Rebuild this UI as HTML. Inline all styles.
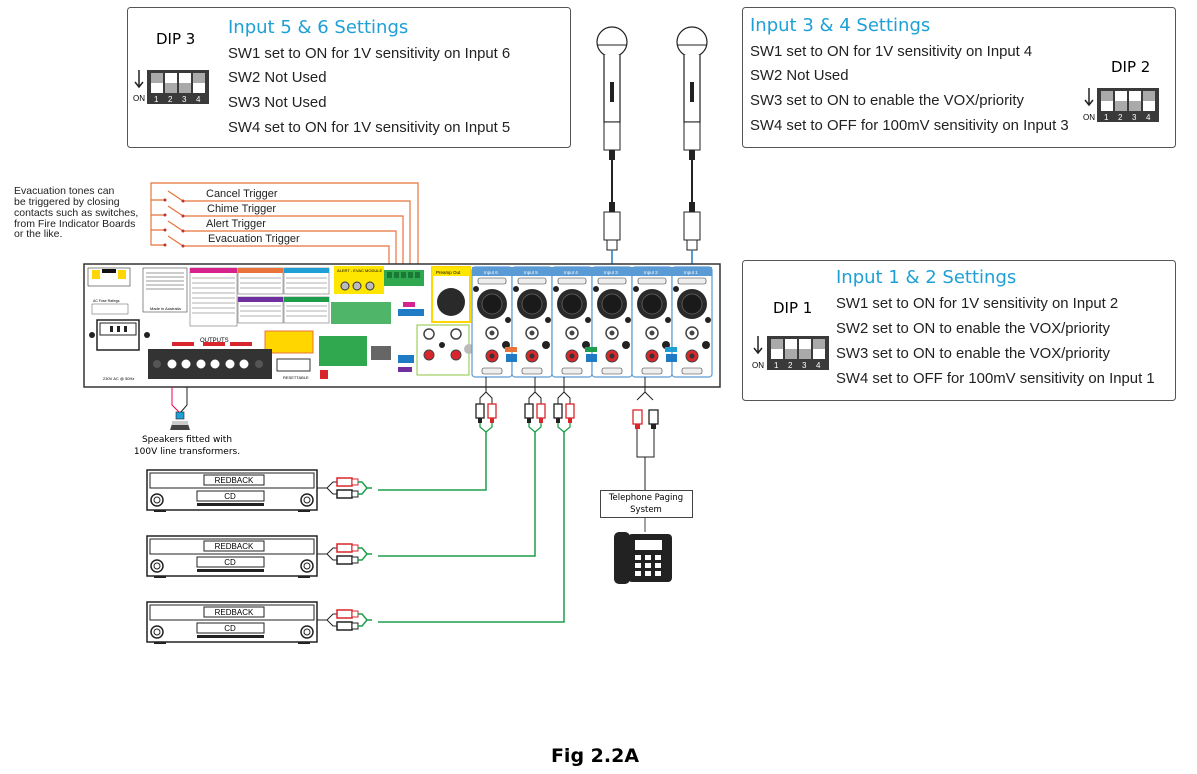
<!DOCTYPE html>
<html><head><meta charset="utf-8"><style>
html,body{margin:0;padding:0;background:#fff}
svg{display:block}
text{font-family:"Liberation Sans",sans-serif}
.s{font-family:"DejaVu Sans","Liberation Sans",sans-serif}
</style></head><body>
<svg width="1197" height="774" viewBox="0 0 1197 774" xmlns="http://www.w3.org/2000/svg">
<defs>
<g id="dip">
 <rect x="0" y="0" width="62" height="34" fill="#3a3a3a"/>
 <rect x="4" y="3" width="12" height="20" fill="#aaa"/><rect x="4" y="13" width="12" height="10" fill="#fff"/>
 <rect x="18" y="3" width="12" height="20" fill="#aaa"/><rect x="18" y="3" width="12" height="10" fill="#fff"/>
 <rect x="32" y="3" width="12" height="20" fill="#aaa"/><rect x="32" y="3" width="12" height="10" fill="#fff"/>
 <rect x="46" y="3" width="12" height="20" fill="#aaa"/><rect x="46" y="13" width="12" height="10" fill="#fff"/>
 <text x="7" y="32" font-size="8" fill="#fff">1</text><text x="21" y="32" font-size="8" fill="#fff">2</text><text x="35" y="32" font-size="8" fill="#fff">3</text><text x="49" y="32" font-size="8" fill="#fff">4</text>
</g>
<g id="mic">
 <circle cx="0" cy="0" r="15" fill="#fff" stroke="#222" stroke-width="1.2"/>
 <line x1="-15" y1="3" x2="15" y2="3" stroke="#222"/>
 <path d="M-8 13 L-8 80 L8 80 L8 13" fill="#fff" stroke="#222" stroke-width="1.2"/>
 <rect x="-2" y="40" width="4" height="20" fill="#222"/>
 <rect x="-8" y="80" width="16" height="28" fill="#fff" stroke="#222"/>
 <rect x="-3" y="108" width="6" height="10" fill="#222"/>
 <line x1="0" y1="118" x2="0" y2="160" stroke="#222" stroke-width="2"/>
 <rect x="-3" y="160" width="6" height="10" fill="#222"/>
 <rect x="-8" y="170" width="16" height="28" fill="#fff" stroke="#222"/>
 <rect x="-5" y="198" width="10" height="10" fill="#fff" stroke="#222"/>
</g>
<g id="ch">
 <rect x="0" y="0" width="40" height="110" rx="3" fill="#fff" stroke="#5b9bd5" stroke-width="1.2"/>
 <rect x="0" y="0" width="40" height="9" fill="#5b9bd5"/>
 <rect x="6" y="11" width="28" height="6" rx="2" fill="#eee" stroke="#333" stroke-width=".6"/>
 <circle cx="20" cy="37" r="15" fill="#2a2a2a"/><circle cx="20" cy="37" r="10" fill="#1a1a1a" stroke="#555"/>
 <circle cx="4" cy="22" r="3" fill="#222"/><circle cx="36" cy="53" r="3" fill="#222"/>
 <circle cx="20" cy="66" r="6" fill="#fff" stroke="#444" stroke-width="1.5"/><circle cx="20" cy="66" r="2.5" fill="#444"/>
 <circle cx="20" cy="89" r="6" fill="#d8262c" stroke="#444"/><circle cx="20" cy="89" r="2.5" fill="#333"/>
 <circle cx="34" cy="78" r="4" fill="#222"/>
 <rect x="10" y="101" width="20" height="6" rx="2" fill="#eee" stroke="#333" stroke-width=".6"/>
</g>
<g id="cd">
 <rect x="0" y="0" width="170" height="40" fill="#fff" stroke="#222" stroke-width="1.5"/>
 <rect x="3" y="3" width="164" height="15" fill="#fff" stroke="#222"/>
 <rect x="57" y="5" width="60" height="10" fill="#fff" stroke="#222"/>
 <text x="87" y="13" font-size="8" text-anchor="middle">REDBACK</text>
 <rect x="50" y="21" width="67" height="10" fill="#fff" stroke="#222"/>
 <text x="83" y="29" font-size="8" text-anchor="middle">CD</text>
 <rect x="50" y="33" width="67" height="3" fill="#222"/>
 <circle cx="10" cy="30" r="6" fill="#fff" stroke="#222" stroke-width="1.5"/><circle cx="10" cy="30" r="3" fill="#fff" stroke="#222"/>
 <circle cx="160" cy="30" r="6" fill="#fff" stroke="#222" stroke-width="1.5"/><circle cx="160" cy="30" r="3" fill="#fff" stroke="#222"/>
 <rect x="7" y="40" width="12" height="2" fill="#222"/><rect x="151" y="40" width="12" height="2" fill="#222"/>
 <path d="M170 18 L180 18 L186 12 L190 12 M180 18 L186 24 L190 24" fill="none" stroke="#222"/>
 <rect x="190" y="8" width="15" height="8" fill="#fff" stroke="#d8262c" stroke-width="1.5"/><rect x="205" y="9" width="6" height="6" fill="#fff" stroke="#d8262c"/>
 <rect x="190" y="20" width="15" height="8" fill="#fff" stroke="#222" stroke-width="1.5"/><rect x="205" y="21" width="6" height="6" fill="#fff" stroke="#222"/>
 <path d="M211 12 L215 12 L220 18 L215 24 L211 24 M220 18 L225 18" fill="none" stroke="#1e9e4a" stroke-width="1.5"/>
</g>
<g id="rca">
 <path d="M-6 -10 L-6 -16 L0 -22 L6 -16 L6 -10" fill="none" stroke="#222"/>
 <rect x="-10" y="-10" width="8" height="14" fill="#fff" stroke="#222" stroke-width="1.3"/><rect x="-8" y="4" width="4" height="5" fill="#222"/>
 <rect x="2" y="-10" width="8" height="14" fill="#fff" stroke="#d8262c" stroke-width="1.3"/><rect x="4" y="4" width="4" height="5" fill="#d8262c"/>
 <path d="M-6 9 L-6 13 L0 18 L6 13 L6 9" fill="none" stroke="#1e9e4a" stroke-width="1.3"/>
</g>
</defs>

<rect x="127.5" y="7.5" width="443" height="140" rx="3" fill="#fff" stroke="#555"/>
<text x="156" y="44" font-size="15" class="s">DIP 3</text>
<path d="M139 70 L139 86 M135 82 L139 87 L143 82" stroke="#222" stroke-width="1.5" fill="none"/>
<text x="133" y="101" font-size="8">ON</text>
<use href="#dip" x="147" y="70"/>
<text x="228" y="33" font-size="18" fill="#1ea0d6" class="s">Input 5 &amp; 6 Settings</text>
<g font-size="14.9" class="s" fill="#222">
<text x="228" y="58">SW1 set to ON for 1V sensitivity on Input 6</text>
<text x="228" y="82">SW2 Not Used</text>
<text x="228" y="107">SW3 Not Used</text>
<text x="228" y="132">SW4 set to ON for 1V sensitivity on Input 5</text>
</g>

<rect x="742.5" y="7.5" width="433" height="140" rx="3" fill="#fff" stroke="#555"/>
<text x="750" y="31" font-size="18" fill="#1ea0d6" class="s">Input 3 &amp; 4 Settings</text>
<g font-size="14.9" class="s" fill="#222">
<text x="750" y="56">SW1 set to ON for 1V sensitivity on Input 4</text>
<text x="750" y="80">SW2 Not Used</text>
<text x="750" y="105">SW3 set to ON to enable the VOX/priority</text>
<text x="750" y="130">SW4 set to OFF for 100mV sensitivity on Input 3</text>
</g>
<text x="1111" y="72" font-size="15" class="s">DIP 2</text>
<path d="M1089 88 L1089 104 M1085 100 L1089 105 L1093 100" stroke="#222" stroke-width="1.5" fill="none"/>
<text x="1083" y="120" font-size="8">ON</text>
<use href="#dip" x="1097" y="88"/>

<rect x="742.5" y="260.5" width="433" height="140" rx="3" fill="#fff" stroke="#555"/>
<text x="836" y="283" font-size="18" fill="#1ea0d6" class="s">Input 1 &amp; 2 Settings</text>
<g font-size="14.9" class="s" fill="#222">
<text x="836" y="308">SW1 set to ON for 1V sensitivity on Input 2</text>
<text x="836" y="333">SW2 set to ON to enable the VOX/priority</text>
<text x="836" y="358">SW3 set to ON to enable the VOX/priority</text>
<text x="836" y="383">SW4 set to OFF for 100mV sensitivity on Input 1</text>
</g>
<text x="773" y="313" font-size="15" class="s">DIP 1</text>
<path d="M758 336 L758 352 M754 348 L758 353 L762 348" stroke="#222" stroke-width="1.5" fill="none"/>
<text x="752" y="368" font-size="8">ON</text>
<use href="#dip" x="767" y="336"/>

<use href="#mic" x="612" y="42"/>
<use href="#mic" x="692" y="42"/>
<line x1="612" y1="250" x2="612" y2="266" stroke="#1e7bc4" stroke-width="1.5"/>
<line x1="692" y1="250" x2="692" y2="266" stroke="#1e7bc4" stroke-width="1.5"/>

<g font-size="10.5" fill="#222">
<text x="14" y="194">Evacuation tones can</text>
<text x="14" y="205">be triggered by closing</text>
<text x="14" y="216">contacts such as switches,</text>
<text x="14" y="227">from Fire Indicator Boards</text>
<text x="14" y="237">or the like.</text>
</g>
<g stroke="#e8743b" stroke-width="1.2" fill="none">
<path d="M418 272 L418 183 L151 183 L151 245 L165 245"/>
<path d="M151 200 L165 200 M151 215 L165 215 M151 230 L165 230"/>
<path d="M168 191 L183 201 M168 206 L183 216 M168 221 L183 231 M168 236 L183 246"/>
<path d="M183 201 L410 201 L410 272"/>
<path d="M183 216 L403 216 L403 272"/>
<path d="M183 231 L396 231 L396 272"/>
<path d="M183 246 L389 246 L389 272"/>
</g>
<g fill="#b33"><circle cx="165" cy="200" r="1.5"/><circle cx="165" cy="215" r="1.5"/><circle cx="165" cy="230" r="1.5"/><circle cx="165" cy="245" r="1.5"/><circle cx="183" cy="201" r="1.5"/><circle cx="183" cy="216" r="1.5"/><circle cx="183" cy="231" r="1.5"/><circle cx="183" cy="246" r="1.5"/></g>
<g font-size="11" fill="#222">
<text x="206" y="197">Cancel Trigger</text>
<text x="207" y="212">Chime Trigger</text>
<text x="206" y="227">Alert Trigger</text>
<text x="208" y="242">Evacuation Trigger</text>
</g>

<rect x="84" y="264" width="636" height="123" fill="#fff" stroke="#333" stroke-width="1.5"/>
<rect x="88" y="268" width="42" height="18" fill="#fff" stroke="#333" stroke-width=".6"/>
<rect x="92" y="270" width="8" height="9" fill="#ffd600"/><rect x="118" y="270" width="8" height="9" fill="#ffd600"/>
<rect x="102" y="269" width="14" height="4" fill="#111"/>
<text x="93" y="302" font-size="3.5">AC Fuse Ratings</text>
<rect x="92" y="304" width="36" height="10" fill="#fff" stroke="#555" stroke-width=".5"/>
<rect x="97" y="320" width="42" height="30" fill="#fff" stroke="#222" stroke-width="1.5"/>
<rect x="100" y="323" width="36" height="12" fill="#fff" stroke="#222"/>
<rect x="110" y="326" width="3" height="6" fill="#222"/><rect x="117" y="326" width="3" height="6" fill="#222"/><rect x="124" y="326" width="3" height="6" fill="#222"/>
<circle cx="92" cy="335" r="3" fill="#222"/><circle cx="147" cy="335" r="3" fill="#222"/>
<text x="103" y="380" font-size="4">230V AC @ 50Hz</text>
<rect x="143" y="268" width="44" height="44" fill="#fff" stroke="#444" stroke-width=".6"/>
<g fill="#ccc"><rect x="146" y="272" width="38" height="2"/><rect x="146" y="276" width="38" height="2"/><rect x="146" y="280" width="38" height="2"/><rect x="146" y="284" width="38" height="2"/><rect x="146" y="288" width="38" height="2"/></g>
<text x="150" y="310" font-size="4">Made in Australia</text>
<rect x="190" y="268" width="47" height="58" fill="#fff" stroke="#555" stroke-width=".5"/><rect x="190" y="268" width="47" height="5" fill="#d6238e"/>
<rect x="238" y="268" width="45" height="26" fill="#fff" stroke="#555" stroke-width=".5"/><rect x="238" y="268" width="45" height="5" fill="#e8743b"/>
<rect x="238" y="297" width="45" height="26" fill="#fff" stroke="#555" stroke-width=".5"/><rect x="238" y="297" width="45" height="5" fill="#7030a0"/>
<rect x="284" y="268" width="45" height="26" fill="#fff" stroke="#555" stroke-width=".5"/><rect x="284" y="268" width="45" height="5" fill="#1ea0d6"/>
<rect x="284" y="297" width="45" height="26" fill="#fff" stroke="#555" stroke-width=".5"/><rect x="284" y="297" width="45" height="5" fill="#1e9e4a"/>
<g stroke="#666" stroke-width=".6"><path d="M192 278h43M192 283h43M192 288h43M192 293h43M192 298h43M192 303h43M192 308h43M192 313h43M240 278h41M240 283h41M240 288h41M240 306h41M240 311h41M240 316h41M286 278h41M286 283h41M286 288h41M286 306h41M286 311h41M286 316h41"/></g>
<rect x="334" y="266" width="50" height="28" fill="#ffe600"/>
<text x="337" y="272" font-size="4">ALERT - EVAC MODULE</text>
<circle cx="345" cy="286" r="4" fill="#bbb" stroke="#333"/><circle cx="357" cy="286" r="4" fill="#bbb" stroke="#333"/><circle cx="370" cy="286" r="4" fill="#bbb" stroke="#333"/>
<rect x="384" y="270" width="40" height="16" fill="#2fa84f"/>
<g fill="#1a7a35"><rect x="387" y="272" width="5" height="6"/><rect x="394" y="272" width="5" height="6"/><rect x="401" y="272" width="5" height="6"/><rect x="408" y="272" width="5" height="6"/><rect x="415" y="272" width="5" height="6"/></g>
<rect x="403" y="302" width="12" height="5" fill="#d6238e"/>
<rect x="398" y="309" width="26" height="7" fill="#1e7bc4"/>
<rect x="331" y="302" width="60" height="22" fill="#2fa84f" opacity=".85"/>
<rect x="265" y="331" width="48" height="22" fill="#ffd600" stroke="#e8743b"/>
<text x="200" y="342" font-size="6">OUTPUTS</text>
<rect x="172" y="342" width="22" height="4" fill="#d8262c"/><rect x="203" y="342" width="22" height="4" fill="#d8262c"/><rect x="230" y="342" width="22" height="4" fill="#d8262c"/>
<rect x="148" y="349" width="124" height="30" fill="#333"/>
<g fill="#fff" stroke="#333"><circle cx="172" cy="364" r="5"/><circle cx="186" cy="364" r="5"/><circle cx="201" cy="364" r="5"/><circle cx="215" cy="364" r="5"/><circle cx="230" cy="364" r="5"/><circle cx="244" cy="364" r="5"/></g>
<circle cx="157" cy="364" r="4" fill="#555"/><circle cx="259" cy="364" r="4" fill="#555"/>
<rect x="277" y="359" width="33" height="12" fill="#fff" stroke="#333"/>
<text x="283" y="379" font-size="4">RESETTABLE</text>
<rect x="319" y="336" width="24" height="30" fill="#2fa84f"/><rect x="343" y="336" width="24" height="30" fill="#2fa84f"/>
<rect x="320" y="370" width="8" height="9" fill="#d8262c"/>
<rect x="371" y="346" width="20" height="14" fill="#666"/>
<rect x="398" y="355" width="16" height="8" fill="#1e7bc4"/><rect x="398" y="367" width="14" height="5" fill="#7030a0"/>
<rect x="417" y="325" width="52" height="50" fill="#fff" stroke="#8dc63f"/>
<circle cx="429" cy="334" r="5" fill="#fff" stroke="#444" stroke-width="1.5"/><circle cx="456" cy="334" r="5" fill="#fff" stroke="#444" stroke-width="1.5"/>
<circle cx="429" cy="355" r="5" fill="#d8262c" stroke="#444"/><circle cx="456" cy="355" r="5" fill="#d8262c" stroke="#444"/>
<circle cx="442" cy="345" r="3" fill="#222"/><circle cx="469" cy="349" r="5" fill="#bbb"/>
<rect x="432" y="267" width="38" height="55" fill="#fff" stroke="#ffd600" stroke-width="2"/>
<rect x="432" y="267" width="38" height="9" fill="#ffe600"/>
<text x="436" y="274" font-size="4.5">Preamp Out</text>
<circle cx="451" cy="302" r="14" fill="#2a2a2a"/>
<use href="#ch" x="472" y="267"/>
<use href="#ch" x="512" y="267"/>
<use href="#ch" x="552" y="267"/>
<use href="#ch" x="592" y="267"/>
<use href="#ch" x="632" y="267"/>
<use href="#ch" x="672" y="267"/>
<g font-size="4.5" fill="#fff"><text x="484" y="274">Input 6</text><text x="524" y="274">Input 5</text><text x="564" y="274">Input 4</text><text x="604" y="274">Input 3</text><text x="644" y="274">Input 2</text><text x="684" y="274">Input 1</text></g>
<rect x="505" y="347" width="12" height="5" fill="#e8743b"/><rect x="506" y="354" width="11" height="8" fill="#1e7bc4"/>
<rect x="585" y="347" width="12" height="5" fill="#1e9e4a"/><rect x="586" y="354" width="11" height="8" fill="#1e7bc4"/>
<rect x="665" y="347" width="12" height="5" fill="#1ea0d6"/><rect x="666" y="354" width="11" height="8" fill="#1e7bc4"/>

<path d="M172 387 L172 405 L180 413" stroke="#e05" fill="none"/>
<path d="M187 387 L187 405 L180 413" stroke="#222" fill="none"/>
<rect x="176" y="412" width="8" height="7" fill="#1ea0d6" stroke="#222" stroke-width=".6"/>
<path d="M170 430 L173 421 L187 421 L190 430 Z" fill="#444"/><rect x="172" y="421" width="16" height="4" fill="#ccc"/>
<text x="187" y="442" font-size="9" text-anchor="middle" class="s">Speakers fitted with</text>
<text x="187" y="454" font-size="9" text-anchor="middle" class="s">100V line transformers.</text>

<line x1="486" y1="377" x2="486" y2="392" stroke="#222"/>
<line x1="535" y1="377" x2="535" y2="392" stroke="#222"/>
<line x1="564" y1="377" x2="564" y2="392" stroke="#222"/>
<use href="#rca" x="486" y="414"/>
<use href="#rca" x="535" y="414"/>
<use href="#rca" x="564" y="414"/>
<g stroke="#1e9e4a" stroke-width="1.5" fill="none">
<path d="M486 432 L486 490 L378 490"/>
<path d="M535 432 L535 556 L378 556"/>
<path d="M564 432 L564 622 L378 622"/>
</g>
<path d="M645 377 L645 392 L637 400 M645 392 L653 400" stroke="#222" fill="none"/>
<rect x="633" y="410" width="9" height="14" fill="#fff" stroke="#d8262c" stroke-width="1.3"/><rect x="635" y="424" width="5" height="5" fill="#d8262c"/>
<rect x="649" y="410" width="9" height="14" fill="#fff" stroke="#222" stroke-width="1.3"/><rect x="651" y="424" width="5" height="5" fill="#222"/>
<path d="M637 429 L637 457 L654 457 L654 429 M645 457 L645 490" stroke="#222" fill="none"/>
<rect x="600.5" y="490.5" width="92" height="27" fill="#fff" stroke="#444"/>
<text x="646" y="500" font-size="8.5" text-anchor="middle" class="s">Telephone Paging</text>
<text x="646" y="512" font-size="8.5" text-anchor="middle" class="s">System</text>
<line x1="645" y1="518" x2="645" y2="532" stroke="#444"/>
<rect x="614" y="532" width="16" height="52" rx="5" fill="#222"/>
<rect x="628" y="534" width="44" height="48" rx="4" fill="#222"/>
<rect x="635" y="540" width="27" height="10" fill="#fff"/>
<g fill="#fff"><rect x="635" y="555" width="6" height="5"/><rect x="645" y="555" width="6" height="5"/><rect x="655" y="555" width="6" height="5"/><rect x="635" y="563" width="6" height="5"/><rect x="645" y="563" width="6" height="5"/><rect x="655" y="563" width="6" height="5"/><rect x="635" y="571" width="6" height="5"/><rect x="645" y="571" width="6" height="5"/><rect x="655" y="571" width="6" height="5"/></g>

<use href="#cd" x="147" y="470"/>
<use href="#cd" x="147" y="536"/>
<use href="#cd" x="147" y="602"/>

<text x="595" y="762" font-size="19" font-weight="bold" text-anchor="middle" class="s">Fig 2.2A</text>
</svg>
</body></html>
